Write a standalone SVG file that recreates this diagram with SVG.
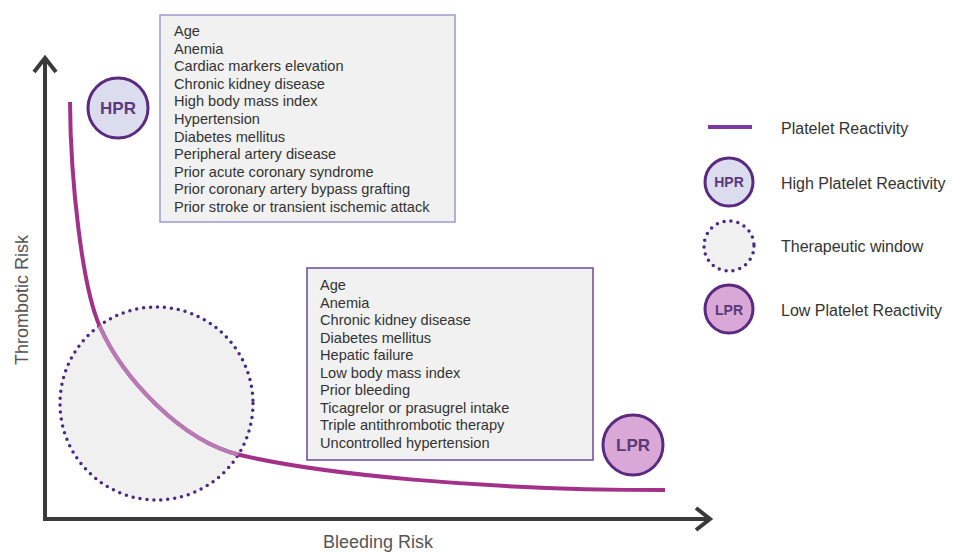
<svg xmlns="http://www.w3.org/2000/svg" width="953" height="553" viewBox="0 0 953 553">
<style>
text{font-family:"Liberation Sans",Arial,sans-serif;fill:#333}
.lst{font-size:14.6px}
.lbl{font-size:18px;fill:#555}
.leg{font-size:16px;fill:#333}
.box{fill:#f1f1f1;stroke-width:1.5}
.hpr{fill:#dcdcef;stroke:#5a2a80;stroke-width:3}
.lpr{fill:#d9a8d6;stroke:#5a2a80;stroke-width:3}
.ct{font-size:17px;font-weight:bold;fill:#5a3a7a;text-anchor:middle}
.tw{fill:#f0f0f0;stroke:#4a2a80;stroke-width:3.5;stroke-dasharray:0 7;stroke-linecap:round}
.ax{fill:none;stroke:#3a3a3a;stroke-width:4}
.cv{fill:none;stroke-width:4}
</style>
<defs>
<clipPath id="twclip"><circle cx="156.5" cy="403.5" r="96.5"/></clipPath>
<path id="curvepath" d="M70,102 C70.5,180 82,287 100,327 C122.5,377 180,440.6 240,455 C320,474 480,490 665,490"/>
</defs>
<rect width="953" height="553" fill="#fff"/>
<g id="therapeutic-window"><circle class="tw" cx="156.5" cy="403.5" r="96.5"/></g>
<g id="connectors">
<path class="ax" d="M45,58 L45,519 L710,519"/>
<path class="ax" d="M34,72 L45,58 L56,72"/>
<path class="ax" d="M696,508 L710,519 L696,530"/>
<use href="#curvepath" class="cv" stroke="#a3318a"/>
<use href="#curvepath" class="cv" stroke="#b87ab5" clip-path="url(#twclip)"/>
</g>
<g id="hpr"><circle class="hpr" cx="118" cy="108" r="30"/><text class="ct" x="118" y="114">HPR</text></g>
<g id="lpr"><circle class="lpr" cx="633" cy="445" r="30"/><text class="ct" x="633" y="451">LPR</text></g>
<g id="thrombotic-factors">
<rect class="box" x="160" y="15" width="295" height="207" stroke="#9a9ad0"/>
<text class="lst" x="174" y="36">Age</text>
<text class="lst" x="174" y="53.6">Anemia</text>
<text class="lst" x="174" y="71.2">Cardiac markers elevation</text>
<text class="lst" x="174" y="88.8">Chronic kidney disease</text>
<text class="lst" x="174" y="106.4">High body mass index</text>
<text class="lst" x="174" y="124">Hypertension</text>
<text class="lst" x="174" y="141.6">Diabetes mellitus</text>
<text class="lst" x="174" y="159.2">Peripheral artery disease</text>
<text class="lst" x="174" y="176.8">Prior acute coronary syndrome</text>
<text class="lst" x="174" y="194.4">Prior coronary artery bypass grafting</text>
<text class="lst" x="174" y="212">Prior stroke or transient ischemic attack</text>
</g>
<g id="bleeding-factors">
<rect class="box" x="307" y="268" width="286" height="192" stroke="#6a4a9a"/>
<text class="lst" x="320" y="290">Age</text>
<text class="lst" x="320" y="307.5">Anemia</text>
<text class="lst" x="320" y="325">Chronic kidney disease</text>
<text class="lst" x="320" y="342.5">Diabetes mellitus</text>
<text class="lst" x="320" y="360">Hepatic failure</text>
<text class="lst" x="320" y="377.5">Low body mass index</text>
<text class="lst" x="320" y="395">Prior bleeding</text>
<text class="lst" x="320" y="412.5">Ticagrelor or prasugrel intake</text>
<text class="lst" x="320" y="430">Triple antithrombotic therapy</text>
<text class="lst" x="320" y="447.5">Uncontrolled hypertension</text>
</g>
<g id="axis-labels">
<text class="lbl" x="378" y="548" text-anchor="middle">Bleeding Risk</text>
<text class="lbl" transform="translate(28,300) rotate(-90)" text-anchor="middle">Thrombotic Risk</text>
</g>
<g id="legend">
<line x1="708" y1="127" x2="752" y2="127" stroke="#7a3aa0" stroke-width="4"/>
<text class="leg" x="781" y="134">Platelet Reactivity</text>
<circle class="hpr" cx="729" cy="182" r="24"/><text class="ct" x="729" y="187" style="font-size:14px">HPR</text>
<text class="leg" x="781" y="189">High Platelet Reactivity</text>
<circle class="tw" cx="729" cy="246" r="25" stroke-dasharray="0 6"/>
<text class="leg" x="781" y="252">Therapeutic window</text>
<circle class="lpr" cx="729" cy="309" r="24"/><text class="ct" x="729" y="315" style="font-size:14px">LPR</text>
<text class="leg" x="781" y="316">Low Platelet Reactivity</text>
</g>
</svg>
